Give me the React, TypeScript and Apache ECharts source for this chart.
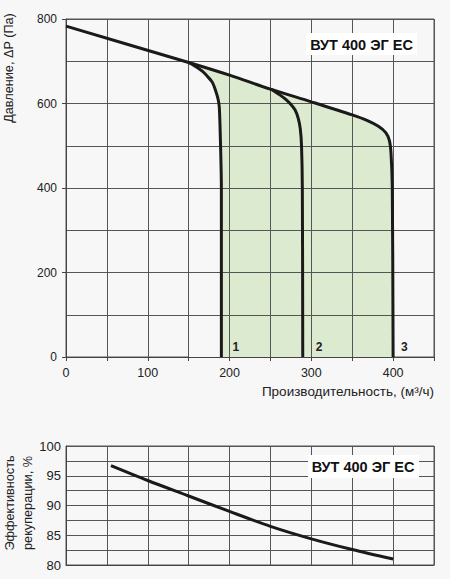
import React, { useEffect, useRef } from "react";
import * as echarts from "echarts";

// Pressure vs airflow (m³/h, Pa)
const mainCurve: [number, number][] = [
  [0, 783], [150, 697], [200, 667], [250, 634], [300, 604], [350, 573],
  [368, 560], [382, 546], [391, 531], [395.5, 512], [397.5, 480], [399, 400], [400, 0],
];
const curve1: [number, number][] = [
  [150, 697], [159, 687], [167, 676], [173, 664], [179, 650], [183, 630],
  [186, 610], [187.5, 590], [189, 500], [190, 400], [190, 0],
];
const curve2: [number, number][] = [
  [251, 634], [261, 621], [268, 611], [274, 600], [280, 585], [284, 565],
  [286.5, 540], [288, 500], [289, 400], [289.5, 0],
];
// Heat recovery efficiency (%) vs airflow
const efficiency: [number, number][] = [
  [55, 96.7], [100, 94.2], [150, 91.6], [200, 89], [250, 86.5],
  [300, 84.4], [350, 82.6], [400, 81],
];
const curveNames = ["1", "2", "3"];
const modelName = "ВУТ 400 ЭГ ЕС";
const pressureTitle = "Давление, ΔP (Па)";
const flowTitle = "Производительность, (м³/ч)";
const effTitle = ["Эффективность", "рекуперации, %"];

export default function App() {
  const ref = useRef<HTMLDivElement>(null);
  useEffect(() => {
    document.body.style.margin = "0";
    document.body.style.background = "#f7f7f7";
    const chart = echarts.init(ref.current!, null, { renderer: "svg" });
    const font = "'Liberation Sans', Arial, sans-serif";
    const gridColor = "#555";
    const axisColor = "#444";
    const lineColor = "#1a1a1a";
    const bg = "#f7f7f7";
    const smooth = 0.3;

    const fillStart = mainCurve.filter((p) => p[0] >= curve1[0][0]);

    const strokeSeries = (data: [number, number][], name: string, offset: number[], xi = 0) => ({
      type: "line",
      xAxisIndex: xi,
      yAxisIndex: xi,
      data,
      smooth,
      symbol: "none",
      z: 3,
      silent: true,
      lineStyle: { color: lineColor, width: 3 },
      endLabel: name
        ? {
            show: true,
            formatter: name,
            distance: 0,
            offset,
            color: "#222",
            fontSize: 12,
            fontWeight: "bold",
            fontFamily: font,
          }
        : { show: false },
    });

    const minorY = {
      minorTick: { show: true, splitNumber: 2, length: 0, lineStyle: { opacity: 0 } },
      minorSplitLine: { show: true, lineStyle: { color: gridColor, width: 1 } },
    };

    chart.setOption({
      animation: false,
      backgroundColor: bg,
      grid: [
        { left: 66, top: 19, right: 16, height: 338, show: true, borderColor: gridColor, borderWidth: 1, backgroundColor: "transparent" },
        { left: 66, top: 446, right: 16, height: 119, show: true, borderColor: gridColor, borderWidth: 1, backgroundColor: "transparent" },
      ],
      xAxis: [
        {
          type: "value", gridIndex: 0, min: 0, max: 450, interval: 50, z: 2,
          axisLine: { show: true, onZero: false, lineStyle: { color: axisColor, width: 1 } },
          axisTick: { show: true, length: 4, lineStyle: { color: axisColor } },
          axisLabel: {
            color: "#222", fontSize: 12.5, fontFamily: font, margin: 9,
            formatter: (v: number) => (v % 100 === 0 && v <= 400 ? String(v) : ""),
          },
          splitLine: { show: true, lineStyle: { color: gridColor, width: 1 } },
        },
        {
          type: "value", gridIndex: 1, min: 0, max: 450, interval: 50, z: 2,
          axisLine: { show: true, onZero: false, lineStyle: { color: axisColor, width: 1 } },
          axisTick: { show: false },
          axisLabel: { show: false },
          splitLine: { show: true, lineStyle: { color: gridColor, width: 1 } },
        },
      ],
      yAxis: [
        {
          type: "value", gridIndex: 0, min: 0, max: 800, interval: 200, z: 2,
          axisLine: { show: true, lineStyle: { color: axisColor, width: 1 } },
          axisTick: { show: true, length: 4, lineStyle: { color: axisColor } },
          axisLabel: { color: "#222", fontSize: 12, fontFamily: font, margin: 9 },
          splitLine: { show: true, lineStyle: { color: gridColor, width: 1 } },
          ...minorY,
        },
        {
          type: "value", gridIndex: 1, min: 80, max: 100, interval: 5, z: 2,
          axisLine: { show: true, lineStyle: { color: axisColor, width: 1 } },
          axisTick: { show: false },
          axisLabel: { color: "#222", fontSize: 13, fontFamily: font, margin: 5 },
          splitLine: { show: true, lineStyle: { color: gridColor, width: 1 } },
          ...minorY,
        },
      ],
      series: [
        {
          type: "line", xAxisIndex: 0, yAxisIndex: 0, data: fillStart,
          smooth, symbol: "none", z: 1, silent: true,
          lineStyle: { width: 0, opacity: 0 },
          areaStyle: { color: "#dcebd0", opacity: 1 },
        },
        {
          type: "line", xAxisIndex: 0, yAxisIndex: 0, data: curve1,
          smooth, symbol: "none", z: 1.5, silent: true,
          lineStyle: { width: 0, opacity: 0 },
          areaStyle: { color: bg, opacity: 1 },
        },
        strokeSeries(mainCurve, curveNames[2], [8, -10]),
        strokeSeries(curve1, curveNames[0], [11, -10]),
        strokeSeries(curve2, curveNames[1], [13, -10]),
        strokeSeries(efficiency, "", [0, 0], 1),
      ],
      graphic: [
        {
          type: "text", x: 9, y: 68, rotation: Math.PI / 2, z: 10,
          style: { text: pressureTitle, fill: "#222", font: `12.7px ${font}`, textAlign: "center", textVerticalAlign: "middle" },
        },
        {
          type: "text", x: 434, y: 391, z: 10,
          style: { text: flowTitle, fill: "#222", font: `13.5px ${font}`, textAlign: "right", textVerticalAlign: "middle" },
        },
        {
          type: "text", x: 18.5, y: 503, rotation: Math.PI / 2, z: 10,
          style: { text: effTitle.join("\n"), fill: "#222", font: `12.7px ${font}`, lineHeight: 18, textAlign: "center", textVerticalAlign: "middle" },
        },
        { type: "rect", z: 10, shape: { x: 306, y: 33, width: 111, height: 22 }, style: { fill: "#fff" } },
        {
          type: "text", x: 361.5, y: 44.5, z: 11,
          style: { text: modelName, fill: "#111", font: `bold 14.5px ${font}`, textAlign: "center", textVerticalAlign: "middle" },
        },
        { type: "rect", z: 10, shape: { x: 308, y: 455, width: 111, height: 23 }, style: { fill: "#fff" } },
        {
          type: "text", x: 363, y: 466.5, z: 11,
          style: { text: modelName, fill: "#111", font: `bold 14.5px ${font}`, textAlign: "center", textVerticalAlign: "middle" },
        },
      ],
    });
    return () => chart.dispose();
  }, []);
  return <div ref={ref} style={{ width: 450, height: 579, background: "#f7f7f7" }} />;
}
